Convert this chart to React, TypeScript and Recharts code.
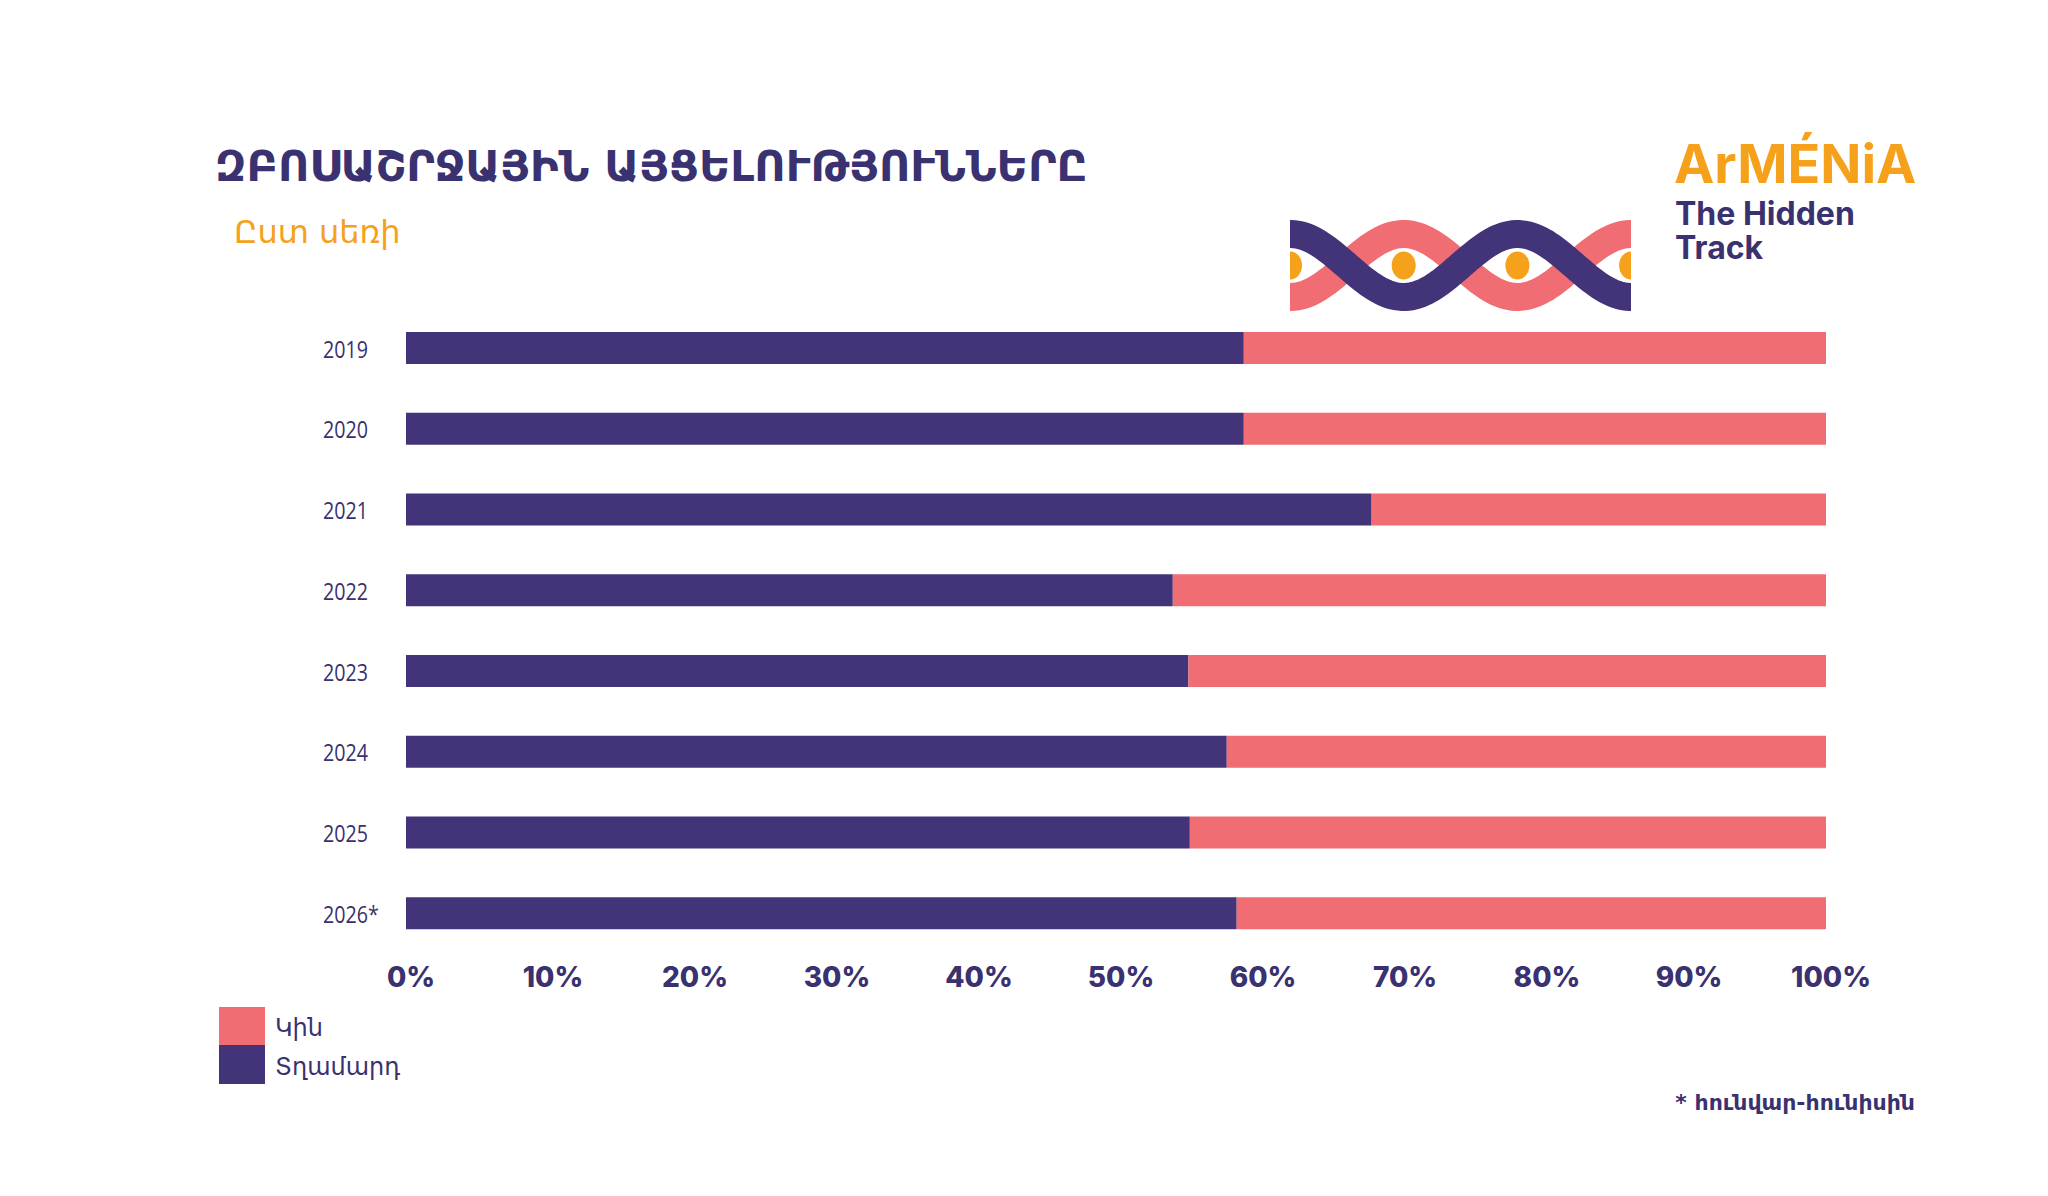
import React from 'react';
import { BarChart, Bar, XAxis, YAxis } from 'recharts';

const years = ['2019', '2020', '2021', '2022', '2023', '2024', '2025', '2026*'];
const men = [59.0, 59.0, 68.0, 54.0, 55.1, 57.8, 55.2, 58.5];
const women = [41.0, 41.0, 32.0, 46.0, 44.9, 42.2, 44.8, 41.5];
const percentTicks = [0, 10, 20, 30, 40, 50, 60, 70, 80, 90, 100];

const data = years.map((year, i) => ({ year, men: men[i], women: women[i] }));

const PURPLE = '#433479';
const PINK = '#ef6d73';
const ORANGE = '#f5a11c';
const INK = '#3a3170';
const ARM = '"DejaVu Sans", "Noto Sans", sans-serif';

const YearTick = (props: any) => (
  <g transform={`translate(323, ${props.y}) scale(0.82, 1)`}>
    <text x={0} y={0} dominantBaseline="central" textAnchor="start"
      fontFamily='"Open Sans", sans-serif' fontSize={24} fill={INK}>
      {props.payload.value}
    </text>
  </g>
);

const PercentTick = (props: any) => (
  <text x={props.x + 5} y={props.y + 23} dominantBaseline="central" textAnchor="middle"
    fontFamily="Inter, sans-serif" fontWeight={800} fontSize={28} fill={INK}>
    {props.payload.value}%
  </text>
);

// decorative wave logo
const wavePath = (sign: number) => {
  const H = 113.7, c = 56.5, A = 31.5;
  let d = '';
  for (let x = -20; x <= 361; x += 3) {
    const y = c - sign * A * Math.cos((Math.PI * x) / H);
    d += (d ? ' L' : 'M') + x.toFixed(1) + ' ' + y.toFixed(1);
  }
  return d;
};

const Waves = () => (
  <svg width={341} height={113} style={{ position: 'absolute', left: 1290, top: 209 }}>
    <path d={wavePath(-1)} stroke={PINK} strokeWidth={28} fill="none" />
    <path d={wavePath(1)} stroke={PURPLE} strokeWidth={28} fill="none" />
    {[0, 1, 2, 3].map((k) => (
      <ellipse key={k} cx={k * 113.7} cy={56.5} rx={12} ry={14} fill={ORANGE} />
    ))}
  </svg>
);

export default function App() {
  return (
    <div style={{ position: 'absolute', left: 0, top: 0, width: 2048, height: 1196, background: '#fff' }}>
      <div style={{ position: 'absolute', left: 215, top: 145, fontFamily: ARM, fontWeight: 700, fontSize: 43, lineHeight: 1, color: INK, whiteSpace: 'nowrap' }}>
        ԶԲՈՍԱՇՐՋԱՅԻՆ ԱՅՑԵԼՈՒԹՅՈՒՆՆԵՐԸ
      </div>
      <div style={{ position: 'absolute', left: 234, top: 216, fontFamily: ARM, fontSize: 32, lineHeight: 1, color: ORANGE, whiteSpace: 'nowrap' }}>
        Ըստ սեռի
      </div>
      <div style={{ position: 'absolute', left: 1674, top: 137, fontFamily: 'Inter, sans-serif', fontWeight: 700, fontSize: 54, lineHeight: 1, color: ORANGE, whiteSpace: 'nowrap' }}>
        ArMÉNiA
      </div>
      <div style={{ position: 'absolute', left: 1675, top: 198, fontFamily: 'Inter, sans-serif', fontWeight: 700, fontSize: 32, lineHeight: 1, color: INK, whiteSpace: 'nowrap' }}>
        The Hidden
      </div>
      <div style={{ position: 'absolute', left: 1675, top: 232, fontFamily: 'Inter, sans-serif', fontWeight: 700, fontSize: 32, lineHeight: 1, color: INK, whiteSpace: 'nowrap' }}>
        Track
      </div>
      <Waves />
      <BarChart width={2048} height={1196} layout="vertical" data={data}
        margin={{ top: 308, right: 222, bottom: 202, left: 323 }} style={{ position: 'absolute', left: 0, top: 0 }}>
        <XAxis type="number" domain={[0, 100]} ticks={percentTicks} height={40}
          axisLine={false} tickLine={false} tickSize={0} tickMargin={0} tick={<PercentTick />} />
        <YAxis type="category" dataKey="year" width={83} axisLine={false} tickLine={false}
          tickSize={0} tickMargin={0} tick={<YearTick />} />
        <Bar dataKey="men" stackId="a" fill={PURPLE} barSize={32} isAnimationActive={false} />
        <Bar dataKey="women" stackId="a" fill={PINK} barSize={32} isAnimationActive={false} />
      </BarChart>
      <div style={{ position: 'absolute', left: 219, top: 1007, width: 46, height: 38, background: PINK }} />
      <div style={{ position: 'absolute', left: 219, top: 1045, width: 46, height: 39, background: PURPLE }} />
      <div style={{ position: 'absolute', left: 275, top: 1016, fontFamily: ARM, fontSize: 24, lineHeight: 1, color: INK }}>Կին</div>
      <div style={{ position: 'absolute', left: 275, top: 1055, fontFamily: ARM, fontSize: 24, lineHeight: 1, color: INK }}>Տղամարդ</div>
      <div style={{ position: 'absolute', right: 2048 - 1915, top: 1092, fontFamily: ARM, fontWeight: 700, fontSize: 22, lineHeight: 1, color: INK, whiteSpace: 'nowrap' }}>
        * հունվար-հունիսին
      </div>
    </div>
  );
}
